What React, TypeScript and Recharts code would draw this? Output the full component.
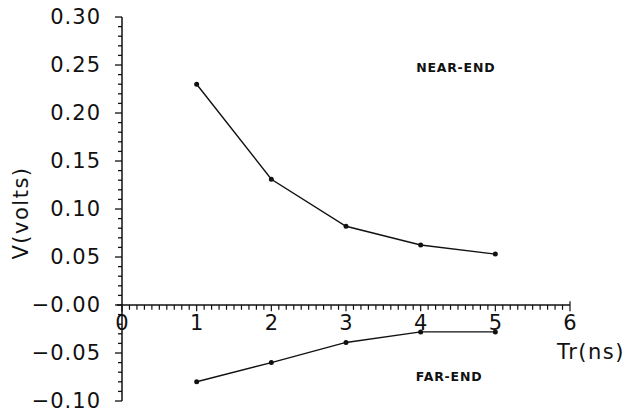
import { LineChart, Line, XAxis, YAxis, ReferenceLine, ReferenceDot } from 'recharts'

// ─── Data ────────────────────────────────────────────────────────────────────

const TR_NS = [1, 2, 3, 4, 5]
const NEAR_END = [0.230, 0.131, 0.082, 0.0625, 0.053]
const FAR_END = [-0.080, -0.060, -0.039, -0.028, -0.028]

const X_LABELS = [0, 1, 2, 3, 4, 5, 6]
const Y_LABELS = [-0.1, -0.05, 0, 0.05, 0.1, 0.15, 0.2, 0.25, 0.3]

const data = TR_NS.map((t, i) => ({ t, near: NEAR_END[i], far: FAR_END[i] }))

// minor ticks: 0.01 V on Y, 0.1 ns on X
const yTicks: number[] = []
for (let i = -10; i <= 30; i++) yTicks.push(i / 100)
const xMinor: number[] = []
for (let i = 0; i <= 60; i++) xMinor.push(i / 10)

const FONT = '"DejaVu Sans", sans-serif'
const INK = '#111'

const isMajorY = (v: number) => Y_LABELS.some(m => Math.abs(m - v) < 1e-6)
const fmtY = (v: number) => (v <= 0 ? '\u2212' : '') + Math.abs(v).toFixed(2)

// ─── Y tick ───────────────────────────────────────────────────────────────────

function YTick({ x, y, payload }: any) {
  const major = isMajorY(payload.value)
  const ax = x + 8
  return (
    <g>
      <line x1={ax} x2={ax - (major ? 7 : 4)} y1={y} y2={y} stroke={INK} strokeWidth={1.3} />
      {major && (
        <text x={ax - 21} y={y} textAnchor="end" dominantBaseline="central"
          fontFamily={FONT} fontSize={21} letterSpacing={1} fill={INK}>
          {fmtY(payload.value)}
        </text>
      )}
    </g>
  )
}

function TextAt({ viewBox, value, size, weight, spacing = 0, dx = 0, dy = 0 }: any) {
  return (
    <text x={viewBox.x + dx} y={viewBox.y + dy} textAnchor="middle" dominantBaseline="central"
      fontFamily={FONT} fontSize={size} fontWeight={weight} letterSpacing={spacing} fill={INK}>
      {value}
    </text>
  )
}

export default function App() {
  return (
    <div style={{ position: 'absolute', left: 0, top: 0, width: 630, height: 414, background: '#fff' }}>
      <LineChart width={630} height={414} data={data}
        margin={{ top: 17, right: 60, bottom: 13, left: 0 }}>
        <XAxis dataKey="t" type="number" domain={[0, 6]} hide />
        <YAxis
          type="number"
          domain={[-0.1, 0.3]}
          ticks={yTicks}
          interval={0}
          width={122}
          tick={<YTick />}
          tickLine={false}
          axisLine={{ stroke: INK, strokeWidth: 1.5 }}
          label={{
            content: () => (
              <text x={21} y={213} textAnchor="middle" dominantBaseline="central"
                transform="rotate(-90 21 213)" fontFamily={FONT} fontSize={21}
                letterSpacing={1.5} fill={INK}>
                V(volts)
              </text>
            ),
          }}
        />

        {/* x axis drawn along V = 0 */}
        <ReferenceLine segment={[{ x: -0.07, y: 0 }, { x: 6, y: 0 }]} stroke={INK} strokeWidth={1.5} ifOverflow="visible" />
        {xMinor.map(v => {
          const major = Math.abs(v - Math.round(v)) < 1e-6
          return (
            <ReferenceLine key={'xt' + v}
              segment={[{ x: v, y: major && v === 6 ? 0.004 : 0 }, { x: v, y: major ? -0.0065 : -0.005 }]}
              stroke={INK} strokeWidth={1.2} ifOverflow="visible" />
          )
        })}
        {X_LABELS.map(v => (
          <ReferenceDot key={'xl' + v} x={v} y={0} r={0} ifOverflow="visible"
            label={<TextAt value={String(v)} size={21} dy={18} />} />
        ))}

        <ReferenceDot x={6.28} y={-0.049} r={0} ifOverflow="visible"
          label={<TextAt value="Tr(ns)" size={21} spacing={1.5} />} />
        <ReferenceDot x={4.47} y={0.247} r={0} ifOverflow="visible"
          label={<TextAt value="NEAR-END" size={12.5} weight="bold" spacing={0.8} />} />
        <ReferenceDot x={4.38} y={-0.074} r={0} ifOverflow="visible"
          label={<TextAt value="FAR-END" size={12.5} weight="bold" spacing={0.8} />} />

        <Line dataKey="near" type="linear" stroke={INK} strokeWidth={1.4}
          dot={{ r: 1.8, fill: INK, stroke: INK }} isAnimationActive={false} />
        <Line dataKey="far" type="linear" stroke={INK} strokeWidth={1.4}
          dot={{ r: 1.8, fill: INK, stroke: INK }} isAnimationActive={false} />
      </LineChart>
    </div>
  )
}
